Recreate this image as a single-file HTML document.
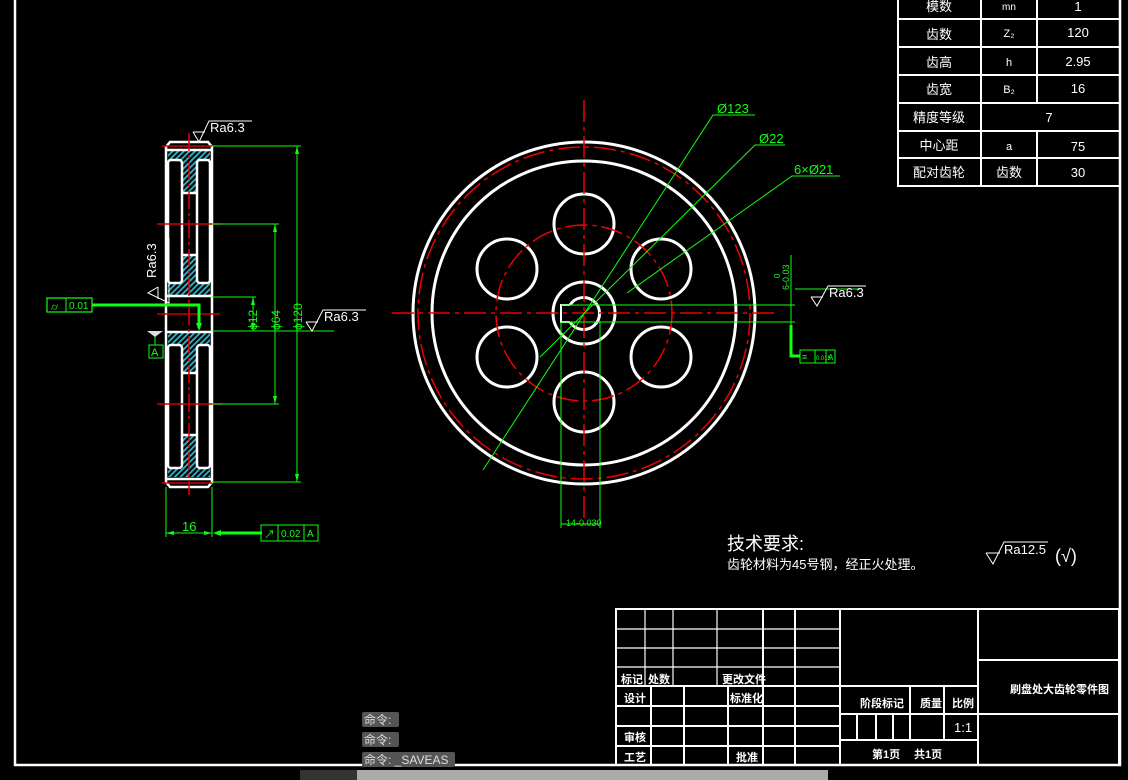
<!DOCTYPE html>
<html><head><meta charset="utf-8"><style>
html,body{margin:0;padding:0;background:#000;}
svg{display:block}
text{font-family:"Liberation Sans","Noto Sans CJK SC",sans-serif;}
</style></head><body>
<svg width="1128" height="780" viewBox="0 0 1128 780" xmlns="http://www.w3.org/2000/svg">
<defs>
<pattern id="h" width="4" height="4" patternUnits="userSpaceOnUse" patternTransform="rotate(45)">
<rect width="4" height="4" fill="#000"/><rect x="0" y="0" width="1.8" height="4" fill="#2fb6c8"/>
</pattern>
</defs>
<rect width="1128" height="780" fill="#000"/>
<polyline points="15,0 15,765 1120,765 1120,0" fill="none" stroke="#fff" stroke-width="2.5"/>

<!-- ===== side view ===== -->
<g fill="url(#h)">
<rect x="168" y="151" width="42" height="9"/>
<rect x="182" y="160" width="15" height="33"/>
<rect x="182" y="255" width="15" height="28"/>
<rect x="168" y="283" width="42" height="13"/>
<rect x="168" y="332" width="42" height="13"/>
<rect x="182" y="345" width="15" height="28"/>
<rect x="182" y="435" width="15" height="33"/>
<rect x="168" y="468" width="42" height="9"/>
</g>
<g stroke="#fff" stroke-width="2.5" fill="none">
<path d="M170,142 L208,142 L212,147 L212,482 L208,487 L170,487 L166,482 L166,147 Z"/>
<line x1="166" y1="150" x2="212" y2="150"/>
<line x1="166" y1="479" x2="212" y2="479"/>
<rect x="168" y="160" width="14" height="123" rx="3"/>
<rect x="197" y="160" width="13" height="123" rx="3"/>
<rect x="168" y="345" width="14" height="123" rx="3"/>
<rect x="197" y="345" width="13" height="123" rx="3"/>
<line x1="182" y1="193" x2="197" y2="193"/><line x1="182" y1="255" x2="197" y2="255"/>
<line x1="182" y1="373" x2="197" y2="373"/><line x1="182" y1="435" x2="197" y2="435"/>
<line x1="166" y1="296" x2="212" y2="296"/><line x1="166" y1="332" x2="212" y2="332"/>
</g>
<g stroke="#e00" stroke-width="1.5" stroke-dasharray="18,4,3,4">
<line x1="189" y1="133" x2="189" y2="495"/>
</g>
<g stroke="#c00" stroke-width="1.5">
<line x1="157" y1="224" x2="222" y2="224"/><line x1="157" y1="404" x2="222" y2="404"/>
<line x1="157" y1="314" x2="220" y2="314"/><line x1="162" y1="146" x2="212" y2="146"/><line x1="162" y1="483" x2="212" y2="483"/>
</g>
<g stroke="#1f1" stroke-width="1" fill="none">
<line x1="212" y1="146" x2="301" y2="146"/><line x1="212" y1="482" x2="301" y2="482"/>
<line x1="297" y1="146" x2="297" y2="482"/>
<line x1="212" y1="224" x2="279" y2="224"/><line x1="212" y1="404" x2="279" y2="404"/>
<line x1="275" y1="224" x2="275" y2="404"/>
<line x1="212" y1="297" x2="256" y2="297"/><line x1="212" y1="331" x2="334" y2="331"/>
<line x1="253" y1="297" x2="253" y2="331"/>
<line x1="166" y1="487" x2="166" y2="537"/><line x1="212" y1="487" x2="212" y2="537"/>
<line x1="166" y1="533" x2="212" y2="533"/>
<line x1="155" y1="331" x2="155" y2="345"/>
</g>
<g fill="#1f1">
<path d="M297,146 l-2,8 h4z M297,482 l-2,-8 h4z M275,224 l-2,8 h4z M275,404 l-2,-8 h4z M253,297 l-2,8 h4z M253,331 l-2,-8 h4z M166,533 l8,-2 v4z M212,533 l-8,-2 v4z"/>
</g>
<g fill="#1f1" font-size="12">
<text transform="translate(302,330) rotate(-90)">ϕ120</text>
<text transform="translate(280,330) rotate(-90)">ϕ64</text>
<text transform="translate(257,330) rotate(-90)">ϕ12</text>
<text x="182" y="531" font-size="13">16</text>
</g>
<polyline points="47,305 199,305 199,328" fill="none" stroke="#1f1" stroke-width="3"/>
<path d="M199,331 l-3,-8 h6z" fill="#1f1"/>
<rect x="47" y="298" width="45" height="14" fill="#000" stroke="#1f1" stroke-width="1.2"/>
<line x1="66" y1="298" x2="66" y2="312" stroke="#1f1"/>
<text x="51" y="310" fill="#1f1" font-size="10">⌭</text>
<text x="69" y="309" fill="#1f1" font-size="10">0.01</text>
<path d="M147,331 h16 l-8,6z" fill="#ddd"/>
<rect x="149" y="345" width="14" height="13" fill="none" stroke="#1f1"/>
<text x="151" y="356" fill="#1f1" font-size="11">A</text>
<line x1="262" y1="533" x2="218" y2="533" stroke="#1f1" stroke-width="3"/>
<path d="M213,533 l8,-3 v6z" fill="#1f1"/>
<rect x="261" y="525" width="57" height="16" fill="none" stroke="#1f1"/>
<line x1="278" y1="525" x2="278" y2="541" stroke="#1f1"/><line x1="304" y1="525" x2="304" y2="541" stroke="#1f1"/>
<text x="264" y="538" fill="#1f1" font-size="11">↗</text>
<text x="281" y="537" fill="#1f1" font-size="10">0.02</text>
<text x="307" y="537" fill="#1f1" font-size="10">A</text>
<g stroke="#fff" stroke-width="1" fill="none">
<polyline points="193,132 199,142 209,121 252,121"/>
<line x1="193" y1="132" x2="205" y2="132"/>
<polyline points="158,287 148,293 169,303 169,238"/>
<line x1="158" y1="287" x2="158" y2="299"/>
<polyline points="306,322 312,331 323,310 366,310"/>
<line x1="306" y1="322" x2="318" y2="322"/>
</g>
<text x="210" y="132" fill="#fff" font-family="Liberation Serif" font-size="13">Ra6.3</text>
<text transform="translate(156,278) rotate(-90)" fill="#fff" font-family="Liberation Serif" font-size="13">Ra6.3</text>
<text x="324" y="321" fill="#fff" font-family="Liberation Serif" font-size="13">Ra6.3</text>

<!-- ===== front view ===== -->
<g stroke="#fff" stroke-width="3" fill="none">
<circle cx="584" cy="313" r="171"/>
<circle cx="584" cy="313" r="152"/>
<circle cx="584" cy="224" r="30"/><circle cx="584" cy="402" r="30"/>
<circle cx="661" cy="269" r="30"/><circle cx="661" cy="357" r="30"/>
<circle cx="507" cy="269" r="30"/><circle cx="507" cy="357" r="30"/>
<circle cx="584" cy="313" r="31"/>
<path d="M570,305 A16,16 0 1 1 570,322"/>
<polyline points="570,305 561,305 561,322 570,322" stroke-width="2"/>
</g>
<g stroke="#e00" stroke-width="1.5" fill="none" stroke-dasharray="22,5,4,5">
<circle cx="584" cy="313" r="166"/>
<circle cx="584" cy="313" r="88"/>
<line x1="584" y1="100" x2="584" y2="525"/>
<line x1="392" y1="313" x2="775" y2="313"/>
</g>
<g stroke="#1f1" stroke-width="1" fill="none">
<polyline points="755,115 713,115 483,470"/>
<polyline points="785,145 755,145 540,357"/>
<polyline points="840,176 792,176 627,293"/>
<line x1="561" y1="305" x2="795" y2="305"/>
<line x1="561" y1="322" x2="795" y2="322"/>
<line x1="791" y1="255" x2="791" y2="355"/>
<line x1="561" y1="322" x2="561" y2="528"/><line x1="600" y1="322" x2="600" y2="528"/>
<line x1="561" y1="524" x2="600" y2="524"/>
<line x1="795" y1="289" x2="860" y2="289"/>
</g>
<polyline points="791,325 791,356 800,356" fill="none" stroke="#1f1" stroke-width="3"/>
<rect x="800" y="350" width="35" height="13" fill="none" stroke="#1f1"/>
<line x1="815" y1="350" x2="815" y2="363" stroke="#1f1"/><line x1="826" y1="350" x2="826" y2="363" stroke="#1f1"/>
<text x="802" y="360" fill="#1f1" font-size="9">≡</text>
<text x="816" y="360" fill="#1f1" font-size="6">0.015</text>
<text x="828" y="360" fill="#1f1" font-size="8">A</text>
<text x="717" y="113" fill="#1f1" font-size="13">Ø123</text>
<text x="759" y="143" fill="#1f1" font-size="13">Ø22</text>
<text x="794" y="174" fill="#1f1" font-size="13">6×Ø21</text>
<text transform="translate(789,290) rotate(-90)" fill="#1f1" font-size="9">6-0.03</text>
<text transform="translate(780,278) rotate(-90)" fill="#1f1" font-size="8">0</text>
<text x="566" y="526" fill="#1f1" font-size="9">14-0.030</text>
<g stroke="#fff" stroke-width="1" fill="none">
<polyline points="811,297 817,306 828,286 866,286"/>
<line x1="811" y1="297" x2="823" y2="297"/>
</g>
<text x="829" y="297" fill="#fff" font-family="Liberation Serif" font-size="13">Ra6.3</text>

<text x="727" y="550" fill="#fff" font-size="18">技术要求:</text>
<text x="727" y="569" fill="#fff" font-size="13">齿轮材料为45号钢，经正火处理。</text>
<g stroke="#fff" stroke-width="1" fill="none">
<polyline points="986,553 993,564 1004,542 1048,542"/>
<line x1="986" y1="553" x2="1000" y2="553"/>
</g>
<text x="1004" y="554" fill="#fff" font-family="Liberation Serif" font-size="13">Ra12.5</text>
<text x="1055" y="562" fill="#fff" font-size="18">(√)</text>

<g stroke="#fff" stroke-width="2" fill="none">
<polyline points="898,0 898,186 1119,186"/>
<line x1="898" y1="19" x2="1119" y2="19"/><line x1="898" y1="47" x2="1119" y2="47"/>
<line x1="898" y1="75" x2="1119" y2="75"/><line x1="898" y1="103" x2="1119" y2="103"/>
<line x1="898" y1="131" x2="1119" y2="131"/><line x1="898" y1="158" x2="1119" y2="158"/>
<line x1="981" y1="0" x2="981" y2="186"/>
<line x1="1037" y1="0" x2="1037" y2="103"/><line x1="1037" y1="131" x2="1037" y2="186"/>
</g>
<g fill="#fff" font-size="13" text-anchor="middle">
<text x="939" y="11">模数</text><text x="1009" y="10" font-size="10">mn</text><text x="1078" y="11">1</text>
<text x="939" y="39">齿数</text><text x="1009" y="37" font-size="11">Z₂</text><text x="1078" y="37">120</text>
<text x="939" y="67">齿高</text><text x="1009" y="66" font-size="11">h</text><text x="1078" y="66">2.95</text>
<text x="939" y="94">齿宽</text><text x="1009" y="93" font-size="11">B₂</text><text x="1078" y="93">16</text>
<text x="939" y="122">精度等级</text><text x="1049" y="122">7</text>
<text x="939" y="150">中心距</text><text x="1009" y="150" font-size="11">a</text><text x="1078" y="151">75</text>
<text x="939" y="177">配对齿轮</text><text x="1009" y="177">齿数</text><text x="1078" y="177">30</text>
</g>

<g stroke="#fff" stroke-width="2" fill="none">
<rect x="616" y="609" width="503" height="156"/>
<line x1="616" y1="629" x2="840" y2="629" stroke-width="1.2"/>
<line x1="616" y1="648" x2="840" y2="648" stroke-width="1.2"/>
<line x1="616" y1="667" x2="840" y2="667" stroke-width="1.2"/>
<line x1="616" y1="686" x2="840" y2="686"/>
<line x1="616" y1="706" x2="840" y2="706"/><line x1="616" y1="726" x2="840" y2="726"/><line x1="616" y1="746" x2="840" y2="746"/>
<line x1="645" y1="609" x2="645" y2="686" stroke-width="1.2"/>
<line x1="673" y1="609" x2="673" y2="686" stroke-width="1.2"/>
<line x1="717" y1="609" x2="717" y2="686" stroke-width="1.2"/>
<line x1="763" y1="609" x2="763" y2="765"/>
<line x1="795" y1="609" x2="795" y2="765"/>
<line x1="840" y1="609" x2="840" y2="765"/>
<line x1="651" y1="686" x2="651" y2="765"/><line x1="684" y1="686" x2="684" y2="765"/><line x1="728" y1="686" x2="728" y2="765"/>
<line x1="978" y1="609" x2="978" y2="765"/>
<line x1="840" y1="686" x2="978" y2="686"/><line x1="840" y1="714" x2="978" y2="714"/><line x1="840" y1="740" x2="978" y2="740"/>
<line x1="910" y1="686" x2="910" y2="740"/><line x1="944" y1="686" x2="944" y2="740"/>
<line x1="857" y1="714" x2="857" y2="740"/><line x1="876" y1="714" x2="876" y2="740"/><line x1="893" y1="714" x2="893" y2="740"/>
<line x1="978" y1="660" x2="1119" y2="660"/><line x1="978" y1="714" x2="1119" y2="714"/>
</g>
<g fill="#fff" font-size="11" font-weight="bold">
<text x="621" y="683">标记</text><text x="648" y="683">处数</text><text x="722" y="683">更改文件</text>
<text x="624" y="702">设计</text><text x="730" y="702">标准化</text>
<text x="624" y="741">审核</text><text x="624" y="761">工艺</text><text x="736" y="761">批准</text>
<text x="860" y="707">阶段标记</text><text x="920" y="707">质量</text><text x="952" y="707">比例</text>
<text x="872" y="758">第1页</text><text x="914" y="758">共1页</text>
<text x="1010" y="693">刷盘处大齿轮零件图</text>
</g>
<text x="954" y="732" fill="#fff" font-size="13">1:1</text>

<rect x="362" y="712" width="37" height="15" rx="2" fill="#555"/>
<rect x="362" y="732" width="37" height="15" rx="2" fill="#555"/>
<rect x="362" y="752" width="93" height="15" rx="2" fill="#555"/>
<g fill="#ddd" font-size="12">
<text x="364" y="724">命令:</text><text x="364" y="744">命令:</text><text x="364" y="764">命令: _SAVEAS</text>
</g>
<rect x="300" y="770" width="57" height="10" fill="#333"/>
<rect x="357" y="770" width="471" height="10" fill="#aaa"/>
</svg>
</body></html>
